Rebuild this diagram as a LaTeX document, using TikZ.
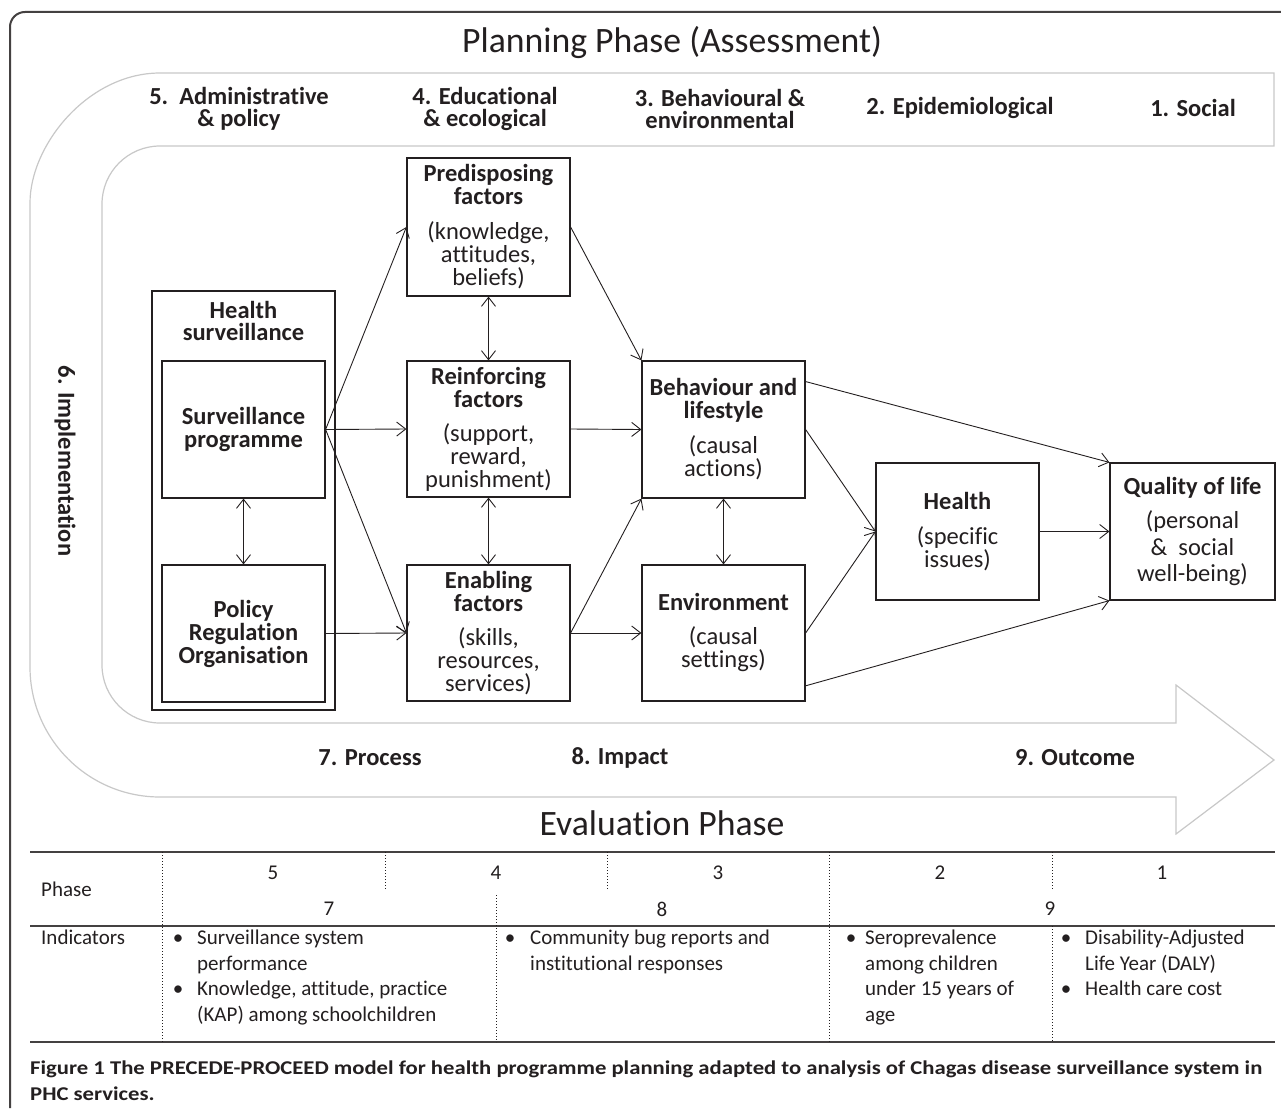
\documentclass[tikz,border=0pt]{standalone}
\usepackage{fontspec}
\usepackage{graphicx}
\setmainfont{Carlito}[Ligatures={NoCommon}]
\usetikzlibrary{arrows.meta,calc}
\definecolor{ink}{HTML}{231F20}
\definecolor{bandgray}{HTML}{C8C8C8}
\newcommand\bxfont{\fontsize{24.5}{23}\selectfont}
\newcommand\lbfont{\fontsize{24.5}{22.5}\selectfont\bfseries}
\newcommand\ttlfont{\fontsize{35.7}{40}\selectfont}
\newcommand\tbfont{\fontsize{21}{25.7}\selectfont}
\newcommand\cpfont{\fontsize{19.5}{26}\selectfont\bfseries}
\begin{document}
\begin{tikzpicture}[x=1pt,y=-1pt,
  every node/.style={text=ink, inner sep=0pt},
  frameline/.style={draw=ink!85, line width=2pt},
  bandline/.style={draw=bandgray, line width=1.2pt, fill=white},
  box/.style={draw=ink, line width=1.2pt, minimum width=163pt, minimum height=137pt, align=center, font=\bxfont},
  outerbox/.style={draw=ink, line width=2.2pt, minimum width=183pt, minimum height=419pt},
  lab/.style={font=\lbfont, align=center},
  ttl/.style={font=\ttlfont},
  conn/.style={draw=ink, line width=0.9pt, -{Straight Barb[length=9pt,width=14pt]}},
  dconn/.style={draw=ink, line width=0.9pt, {Straight Barb[length=9pt,width=14pt]}-{Straight Barb[length=9pt,width=14pt]}},
  tline/.style={draw=ink!85, line width=2pt},
  dotl/.style={draw=ink, line width=1pt, dotted},
  tb/.style={font=\tbfont},
  tbl/.style={font=\tbfont, anchor=base west},
  bul/.style={font=\tbfont, anchor=base}
]
\useasboundingbox (0,0) rectangle (1281,1108);
% outer frame
\draw[frameline] (10,1108) -- (10,27) .. controls (10,18.7) and (16.7,12) .. (25,12) -- (1281,12);
% big U-shaped arrow band
\draw[bandline] (1274,73) -- (160,73) .. controls (88.2,73) and (30,144.8) .. (30,203) -- (30,667)
  .. controls (30,738.8) and (88.2,797) .. (160,797) -- (1176,797) -- (1176,834) -- (1274,760)
  -- (1176,685) -- (1176,723) -- (160,723) .. controls (128,723) and (102,697) .. (102,665)
  -- (102,204) .. controls (102,172) and (128,146) .. (160,146) -- (1274,146) -- cycle;
% titles
\node[ttl] (tplan) at (672,43) {Planning Phase (Assessment)};
\node[ttl] (teval) at (662,823) {Evaluation Phase};
% phase labels
\node[lab] (l5) at (239,109) {5.\ \ Administrative\\\& policy};
\node[lab] (l4) at (485,109) {4. Educational\\\& ecological};
\node[lab] (l3) at (720,109) {3. Behavioural \&\\environmental};
\node[lab] (l2) at (960,108) {2. Epidemiological};
\node[lab] (l1) at (1193,108) {1. Social};
\node[lab, rotate=-90] (l6) at (65,461) {6. Implementation};
\node[lab] (l7) at (370,758) {7. Process};
\node[lab] (l8) at (620,758) {8. Impact};
\node[lab] (l9) at (1075,758) {9. Outcome};
% boxes
\node[outerbox] (hs) at (243.5,500.5) {};
\node[lab] (hslab) at (243.5,321) {Health\\surveillance};
\node[box] (sp) at (243.5,429.5) {\textbf{Surveillance}\\\textbf{programme}};
\node[box] (pro) at (243.5,633.5) {\textbf{Policy}\\\textbf{Regulation}\\\textbf{Organisation}};
\node[box, minimum height=138pt] (pre) at (488.5,227) {\textbf{Predisposing}\\\textbf{factors}\\[12pt](knowledge,\\attitudes,\\beliefs)};
\node[box, minimum height=136pt] (rei) at (488.5,429) {\textbf{Reinforcing}\\\textbf{factors}\\[11pt](support,\\reward,\\punishment)};
\node[box, minimum height=136pt] (ena) at (488.5,633) {\textbf{Enabling}\\\textbf{factors}\\[11pt](skills,\\resources,\\services)};
\node[box] (beh) at (723.5,429.5) {\textbf{Behaviour and}\\\textbf{lifestyle}\\[12pt](causal\\actions)};
\node[box, minimum height=136pt] (env) at (723.5,633) {\textbf{Environment}\\[11pt](causal\\settings)};
\node[box] (hea) at (957.5,531.5) {\textbf{Health}\\[12pt](specific\\issues)};
\node[box, minimum width=165pt] (qol) at (1192.5,531.5) {\textbf{Quality of life}\\[11pt](personal\\[4pt]\&\ \ social\\[3pt]well-being)};
% connectors
\draw[conn] (sp.east) -- (pre.west);
\draw[conn] (sp.east) -- (rei.west);
\draw[conn] (sp.east) -- (ena.west);
\draw[conn] (pro.east) -- (ena.west);
\draw[dconn] (sp.south) -- (pro.north);
\draw[dconn] (pre.south) -- (rei.north);
\draw[dconn] (rei.south) -- (ena.north);
\draw[conn] (pre.east) -- (beh.north west);
\draw[conn] (rei.east) -- (beh.west);
\draw[conn] (ena.east) -- (beh.south west);
\draw[conn] (ena.east) -- (env.west);
\draw[dconn] (beh.south) -- (env.north);
\draw[conn] ($(beh.north east)!0.153!(beh.south east)$) -- (qol.north west);
\draw[conn] (beh.east) -- (hea.west);
\draw[conn] (env.east) -- (hea.west);
\draw[conn] ($(env.north east)!0.885!(env.south east)$) -- (qol.south west);
\draw[conn] (hea.east) -- (qol.west);
% table
\draw[tline] (30,852) -- (1275,852);
\draw[tline] (30,926) -- (1275,926);
\draw[tline] (30,1042) -- (1275,1042);
\draw[dotl] (162,852) -- (162,1042);
\draw[dotl] (385,852) -- (385,890);
\draw[dotl] (607,852) -- (607,890);
\draw[dotl] (496,895) -- (496,1042);
\draw[dotl] (829,852) -- (829,1042);
\draw[dotl] (1052,852) -- (1052,890);
\draw[dotl] (1052,926) -- (1052,1042);
\node[tb, anchor=west] (phase) at (41,889) {Phase};
\node[tbl] (ind) at (41,944.5) {Indicators};
\node[tb] (n5) at (273,873) {5};
\node[tb] (n4) at (496,873) {4};
\node[tb] (n3) at (718,873) {3};
\node[tb] (n2) at (940,873) {2};
\node[tb] (n1) at (1162,873) {1};
\node[tb] (n7) at (329,909) {7};
\node[tb] (n8) at (662,909) {8};
\node[tb] (n9) at (1050,909) {9};
% column 1
\node[bul] (b1a) at (178,944.5) {\textbullet};
\node[tbl] (t1a) at (197,944.5) {Surveillance system};
\node[tbl] (t1b) at (197,970.2) {performance};
\node[bul] (b1b) at (178,995.9) {\textbullet};
\node[tbl] (t1c) at (197,995.9) {Knowledge, attitude, practice};
\node[tbl] (t1d) at (197,1021.6) {(KAP) among schoolchildren};
% column 2
\node[bul] (b2a) at (510,944.5) {\textbullet};
\node[tbl] (t2a) at (530,944.5) {Community bug reports and};
\node[tbl] (t2b) at (530,970.2) {institutional responses};
% column 3
\node[bul] (b3a) at (851,944.5) {\textbullet};
\node[tbl] (t3a) at (865,944.5) {Seroprevalence};
\node[tbl] (t3b) at (865,970.2) {among children};
\node[tbl] (t3c) at (865,995.9) {under 15 years of};
\node[tbl] (t3d) at (865,1021.6) {age};
% column 4
\node[bul] (b4a) at (1066,944.5) {\textbullet};
\node[tbl] (t4a) at (1085,944.5) {Disability-Adjusted};
\node[tbl] (t4b) at (1085,970.2) {Life Year (DALY)};
\node[bul] (b4b) at (1066,995.9) {\textbullet};
\node[tbl] (t4c) at (1085,995.9) {Health care cost};
% caption
\node[anchor=base west] (cap) at (30,1074) {\resizebox{1232pt}{\height}{\cpfont\begin{tabular}[t]{@{}l@{}}Figure 1 The PRECEDE-PROCEED model for health programme planning adapted to analysis of Chagas disease surveillance system in\\PHC services.\end{tabular}}};
\end{tikzpicture}
\end{document}
